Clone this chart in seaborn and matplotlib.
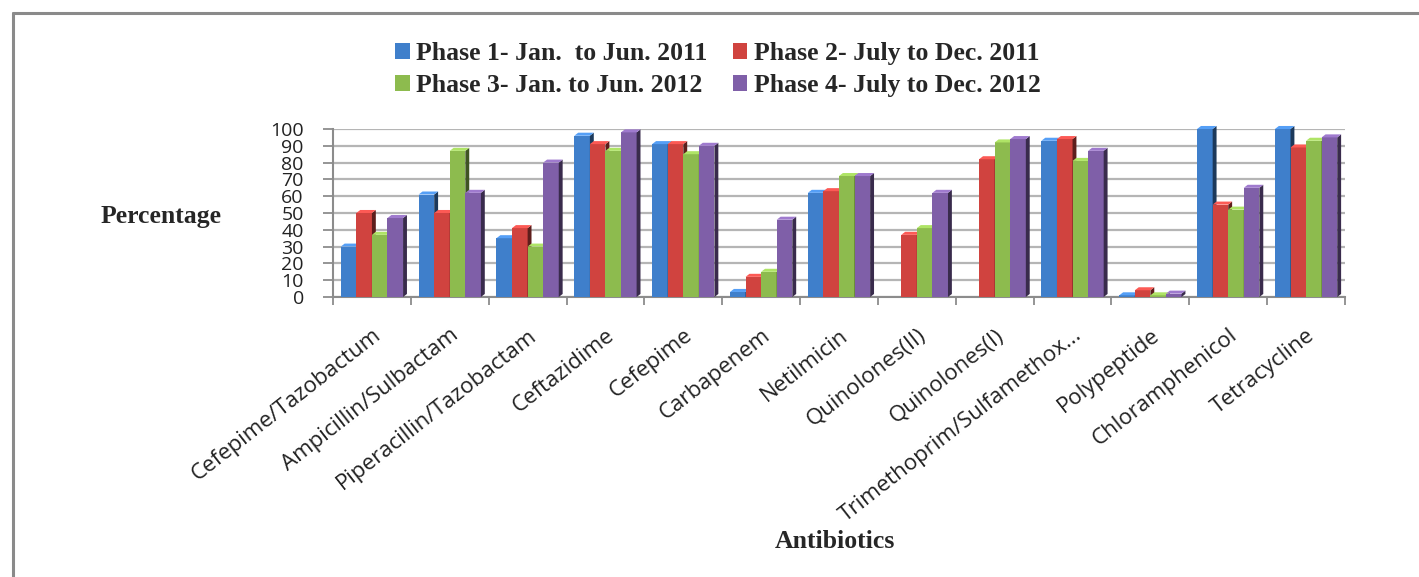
import matplotlib
matplotlib.use("Agg")
import matplotlib.pyplot as plt
import matplotlib.colors as mcolors
from matplotlib.patches import Polygon
from matplotlib.lines import Line2D
import numpy as np
import pandas as pd
import seaborn as sns

# Resistance percentages by antibiotic, one list per study phase
antibiotics = [
    "Cefepime/Tazobactum", "Ampicillin/Sulbactam", "Piperacillin/Tazobactam",
    "Ceftazidime", "Cefepime", "Carbapenem", "Netilmicin", "Quinolones(II)",
    "Quinolones(I)", "Trimethoprim/Sulfamethox...", "Polypeptide",
    "Chloramphenicol", "Tetracycline",
]
phases = [
    "Phase 1- Jan.  to Jun. 2011",
    "Phase 2- July to Dec. 2011",
    "Phase 3- Jan. to Jun. 2012",
    "Phase 4- July to Dec. 2012",
]
phase1 = [30, 61, 35, 96, 91, 3, 62, 0, 0, 93, 1, 100, 100]
phase2 = [50, 50, 41, 91, 91, 12, 63, 37, 82, 94, 4, 55, 89]
phase3 = [37, 87, 30, 87, 85, 15, 72, 41, 92, 81, 1, 52, 93]
phase4 = [47, 62, 80, 98, 90, 46, 72, 62, 94, 87, 2, 65, 95]
y_ticks = [0, 10, 20, 30, 40, 50, 60, 70, 80, 90, 100]

colors = ["#3F7FCB", "#D0433F", "#8DBB4E", "#7F5FA8"]

df = pd.DataFrame({
    "Antibiotic": antibiotics * 4,
    "Phase": np.repeat(phases, len(antibiotics)),
    "Percentage": phase1 + phase2 + phase3 + phase4,
})

sns.set_theme(style="white")
plt.rcParams["font.family"] = ["Open Sans", "DejaVu Sans"]

W, H = 1419, 577
fig = plt.figure(figsize=(W / 100, H / 100), dpi=100)
ax = fig.add_axes([333 / W, (H - 297) / H, 1012 / W, 168 / H])

sns.barplot(data=df, x="Antibiotic", y="Percentage", hue="Phase",
            order=antibiotics, hue_order=phases, palette=colors,
            width=0.8, gap=0, saturation=1, errorbar=None, ax=ax,
            edgecolor="none", linewidth=0)

# Shaded side and top faces give the columns some depth
dx, dy = 0.05, 1.8
for k, cont in enumerate(ax.containers):
    base = mcolors.to_rgb(colors[k])
    dark = tuple(c * 0.45 for c in base)
    light = tuple(min(1, c * 1.15 + 0.05) for c in base)
    for bar in cont:
        bar.set_zorder(3 + k)
        h = bar.get_height()
        if h <= 0:
            continue
        x0 = bar.get_x()
        x1 = x0 + bar.get_width()
        side = Polygon([(x1, 0), (x1 + dx, dy), (x1 + dx, h + dy), (x1, h)],
                       closed=True, facecolor=dark, edgecolor="none",
                       zorder=3 + k + 0.5, clip_on=False)
        top = Polygon([(x0, h), (x0 + dx, h + dy), (x1 + dx, h + dy), (x1, h)],
                      closed=True, facecolor=light, edgecolor="none",
                      zorder=3 + k + 0.5, clip_on=False)
        ax.add_patch(side)
        ax.add_patch(top)

ax.set_ylim(0, 100)
ax.set_xlim(-0.5, len(antibiotics) - 0.5)
ax.set_yticks(y_ticks)
ax.set_yticklabels([str(v) for v in y_ticks], fontsize=14, color="#222222")
ax.yaxis.grid(True, color="#b5b5b5", linewidth=1.6, zorder=0)
ax.set_axisbelow(True)
ax.set_xlabel("")
ax.set_ylabel("")

# Category labels at group centres, tick marks at group boundaries
ax.set_xticks(range(len(antibiotics)))
ax.set_xticklabels(antibiotics, rotation=38, ha="right",
                   rotation_mode="anchor", fontsize=16, color="#222222")
ax.set_xticks(np.arange(-0.5, len(antibiotics)), minor=True)
ax.tick_params(axis="x", which="major", length=0, pad=20)
ax.tick_params(axis="x", which="minor", length=6, width=1.3,
               color="#8c8c8c", direction="out", bottom=True)
ax.tick_params(axis="y", length=7, width=1.3, color="#8c8c8c",
               direction="out", left=True, pad=14)

for side in ["top", "right"]:
    ax.spines[side].set_visible(False)
for side in ["left", "bottom"]:
    ax.spines[side].set_color("#8c8c8c")
    ax.spines[side].set_linewidth(1.5)

ax.get_legend().remove()
handles = [c.patches[0] for c in ax.containers]
order = [0, 2, 1, 3]
leg = fig.legend([handles[i] for i in order], [phases[i] for i in order],
                 ncol=2, loc="upper center", bbox_to_anchor=(718 / W, 1 - 19 / H),
                 frameon=False, handlelength=0.55, handleheight=0.55,
                 handletextpad=0.25, columnspacing=1.0, labelspacing=0.35,
                 prop={"family": "Liberation Serif", "weight": "bold", "size": 18.5})

fig.text(161 / W, 1 - 217 / H, "Percentage", ha="center", va="center",
         family="Liberation Serif", weight="bold", fontsize=18.5)
fig.text(835 / W, 1 - 542 / H, "Antibiotics", ha="center", va="center",
         family="Liberation Serif", weight="bold", fontsize=18.5)

# Chart frame
fx, fy = 12.5 / W, 1 - 12.5 / H
fig.add_artist(Line2D([fx, fx], [0, fy], transform=fig.transFigure,
                      color="#8a8a8a", linewidth=2.2))
fig.add_artist(Line2D([fx, 1], [fy, fy], transform=fig.transFigure,
                      color="#8a8a8a", linewidth=2.2))

fig.savefig("out.png", dpi=100, facecolor="white")
